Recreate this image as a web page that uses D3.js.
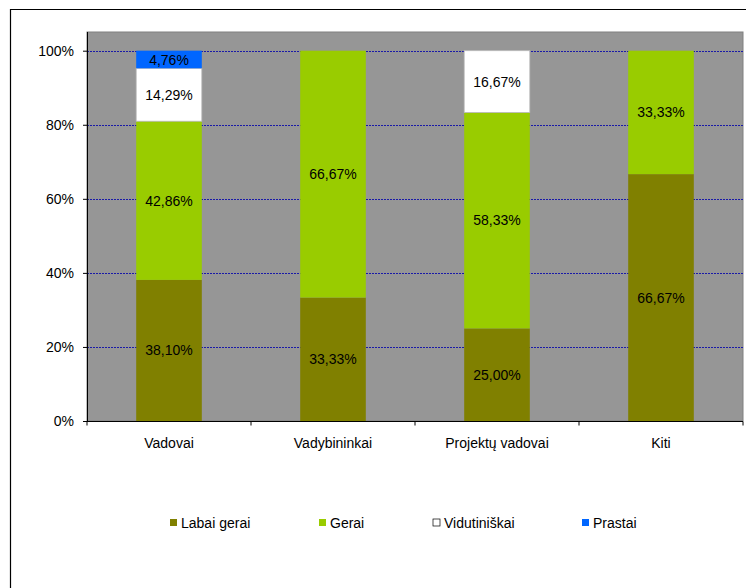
<!DOCTYPE html>
<html>
<head>
<meta charset="utf-8">
<script src="https://cdn.jsdelivr.net/npm/d3@7"></script>
<style>
  html, body { margin: 0; padding: 0; background: #fff; }
  svg { display: block; font-family: Arial, "Liberation Sans", sans-serif; }
</style>
</head>
<body>
<svg id="chart" width="746" height="588"></svg>
<script>
// Categories and stacked series (percent of each group)
const categories = ["Vadovai", "Vadybininkai", "Projektų vadovai", "Kiti"];
const seriesNames = ["Labai gerai", "Gerai", "Vidutiniškai", "Prastai"];
const labaiGerai   = [38.10, 33.33, 25.00, 66.67];
const gerai        = [42.86, 66.67, 58.33, 33.33];
const vidutiniskai = [14.29, 0, 16.67, 0];
const prastai      = [4.76, 0, 0, 0];
const yTicks = [0, 20, 40, 60, 80, 100];
const colors = ["#808000", "#99CC00", "#FFFFFF", "#0066FF"];
const FS = 14;

const rows = categories.map((c, i) => ({
  cat: c,
  "Labai gerai": labaiGerai[i],
  "Gerai": gerai[i],
  "Vidutiniškai": vidutiniskai[i],
  "Prastai": prastai[i]
}));
const stacked = d3.stack().keys(seriesNames)(rows);

const svg = d3.select("#chart");

// outer frame (top and left edges)
svg.append("path")
  .attr("d", "M10.5,588 V9.5 H746")
  .attr("fill", "none").attr("stroke", "#000").attr("stroke-width", 1.2);

const plot = { left: 87, right: 743, top: 32, bottom: 421 };
const x = d3.scaleBand().domain(categories).range([plot.left, plot.right]).paddingInner(0.6).paddingOuter(0.3);
const xBand = d3.scaleBand().domain(categories).range([plot.left, plot.right]);
const y = d3.scaleLinear().domain([0, 100]).range([plot.bottom, 50.7]);

// plot area background
svg.append("rect")
  .attr("x", plot.left).attr("y", plot.top)
  .attr("width", plot.right - plot.left).attr("height", plot.bottom - plot.top)
  .attr("fill", "#969696").attr("stroke", "#808080").attr("stroke-width", 1);

// gridlines
svg.append("g").selectAll("line")
  .data(yTicks.filter(t => t > 0))
  .join("line")
  .attr("x1", plot.left).attr("x2", plot.right)
  .attr("y1", d => Math.round(y(d)) + 0.5).attr("y2", d => Math.round(y(d)) + 0.5)
  .attr("stroke", "#1a1aa8").attr("stroke-width", 1).attr("stroke-dasharray", "2,1");

// bars
const layer = svg.append("g").selectAll("g")
  .data(stacked).join("g")
  .attr("fill", (d, i) => colors[i]);

layer.selectAll("rect")
  .data(d => d.map(v => ({ v, key: d.key })))
  .join("rect")
  .filter(d => d.v[1] - d.v[0] > 0)
  .attr("x", d => x(d.v.data.cat))
  .attr("width", x.bandwidth())
  .attr("y", d => y(d.v[1]))
  .attr("height", d => y(d.v[0]) - y(d.v[1]))
  .attr("stroke", d => d.key === "Vidutiniškai" ? "#bbbbbb" : "none")
  .attr("stroke-width", 0.8);

// value labels
const labels = svg.append("g").attr("font-size", FS).attr("fill", "#000").attr("text-anchor", "middle");
stacked.forEach(s => {
  s.forEach(v => {
    const val = v[1] - v[0];
    if (val <= 0) return;
    labels.append("text")
      .attr("x", x(v.data.cat) + x.bandwidth() / 2)
      .attr("y", (y(v[0]) + y(v[1])) / 2)
      .attr("dy", "0.36em")
      .text(val.toFixed(2).replace(".", ",") + "%");
  });
});

// y axis
const yAxis = d3.axisLeft(y).tickValues(yTicks).tickFormat(d => d + "%").tickSize(4).tickPadding(9);
const gy = svg.append("g").attr("transform", `translate(${plot.left},0)`).call(yAxis);
gy.select(".domain").attr("d", `M0.5,${plot.top}V${plot.bottom}`).attr("stroke", "#000");
gy.selectAll(".tick line").attr("stroke", "#000");
gy.selectAll(".tick text").attr("font-size", FS).attr("fill", "#000").attr("font-family", "Arial, 'Liberation Sans', sans-serif");

// x axis
const gx = svg.append("g").attr("transform", `translate(0,${plot.bottom + 0.5})`);
gx.append("line").attr("x1", plot.left).attr("x2", plot.right).attr("stroke", "#000");
const bounds = categories.map(c => xBand(c)).concat([plot.right]);
gx.selectAll("line.tk").data(bounds).join("line").attr("class", "tk")
  .attr("x1", d => d).attr("x2", d => d).attr("y1", 0).attr("y2", 4).attr("stroke", "#000");
gx.selectAll("text").data(categories).join("text")
  .attr("x", d => xBand(d) + xBand.bandwidth() / 2)
  .attr("y", 21).attr("dy", "0.36em")
  .attr("text-anchor", "middle").attr("font-size", FS).attr("fill", "#000")
  .text(d => d);

// legend
const legendX = [170, 319, 433, 582];
const leg = svg.append("g").selectAll("g").data(seriesNames).join("g")
  .attr("transform", (d, i) => `translate(${legendX[i]},519)`);
leg.append("rect").attr("width", 7).attr("height", 7)
  .attr("fill", (d, i) => colors[i])
  .attr("stroke", (d, i) => i === 2 ? "#000" : "none").attr("stroke-width", 0.7);
leg.append("text").attr("x", 11).attr("y", 3.5).attr("dy", "0.36em")
  .attr("font-size", FS).attr("fill", "#000").text(d => d);
</script>
</body>
</html>
